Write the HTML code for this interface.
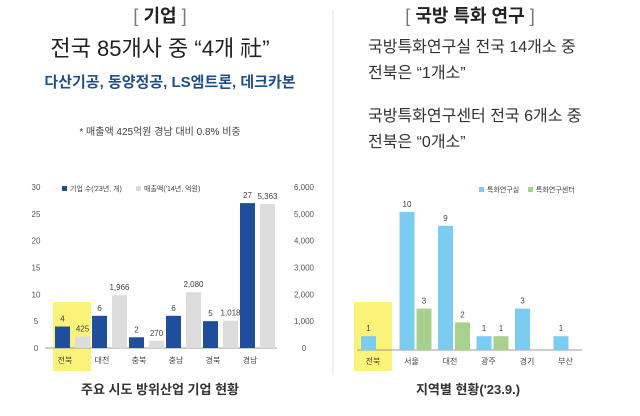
<!DOCTYPE html>
<html><head><meta charset="utf-8"><style>
body{margin:0;background:#fff;width:640px;height:411px;overflow:hidden;font-family:"Liberation Sans","Noto Sans CJK KR",sans-serif;}
svg text{font-family:"Liberation Sans","Noto Sans CJK KR",sans-serif;}
</style></head><body>
<svg id="s" width="640" height="411" viewBox="0 0 640 411" xmlns="http://www.w3.org/2000/svg">
<line x1="333" y1="10" x2="333" y2="375" stroke="#e4e4e4" stroke-width="1"/>
<text x="160" y="22" font-size="18" text-anchor="middle" fill="#222"><tspan fill="#777" font-weight="normal">[ </tspan><tspan font-weight="bold">기업</tspan><tspan fill="#777"> ]</tspan></text>
<text x="160" y="56" font-size="22" text-anchor="middle" fill="#222">전국 85개사 중 “4개 社”</text>
<text x="170" y="87" font-size="15" font-weight="bold" text-anchor="middle" fill="#1f4e8c">다산기공, 동양정공, LS엠트론, 데크카본</text>
<text x="160" y="135" font-size="10" text-anchor="middle" fill="#444">* 매출액 425억원 경남 대비 0.8% 비중</text>
<text x="470" y="22" font-size="18" text-anchor="middle" fill="#222"><tspan fill="#777">[ </tspan><tspan font-weight="bold">국방 특화 연구</tspan><tspan fill="#777"> ]</tspan></text>
<text x="368" y="52" font-size="16" fill="#333">국방특화연구실 전국 14개소 중</text>
<text x="368" y="78" font-size="16" fill="#333">전북은 “1개소”</text>
<text x="368" y="121" font-size="16" fill="#333">국방특화연구센터 전국 6개소 중</text>
<text x="368" y="147" font-size="16" fill="#333">전북은 “0개소”</text>
<g id="c1"></g><g id="c2"></g>
<text x="160" y="394" font-size="13" font-weight="bold" text-anchor="middle" fill="#333">주요 시도 방위산업 기업 현황</text>
<text x="468" y="394" font-size="13" font-weight="bold" text-anchor="middle" fill="#333">지역별 현황('23.9.)</text>
</svg>
<script>
const cats1=["전북","대전","충북","충남","경북","경남"];
const firms=[4,6,2,6,5,27];
const sales=[425,1966,270,2080,1018,5363];
const leftTicks=[0,5,10,15,20,25,30];
const rightTicks=[0,1000,2000,3000,4000,5000,6000];
const cats2=["전북","서울","대전","광주","경기","부산"];
const labs=[1,10,9,1,3,1];
const centers=[0,3,2,1,0,0];
const NS="http://www.w3.org/2000/svg";
function mk(p,t,a,txt){const e=document.createElementNS(NS,t);for(const k in a)e.setAttribute(k,a[k]);if(txt!==undefined)e.textContent=txt;p.appendChild(e);return e;}
// chart 1
const g1=document.getElementById('c1');
const base1=348,top1=187;
const yL=v=>base1-(v/30)*(base1-top1);
const yR=v=>base1-(v/6000)*(base1-top1);
const gx1=i=>55+i*37;
let hl=mk(g1,'rect',{x:53,y:302,width:38,height:69,fill:'#fbf27a'});


leftTicks.forEach(t=>{const e=mk(g1,'text',{x:36,y:yL(t)+3,'font-size':8,'text-anchor':'middle',fill:'#555'},t);

});
rightTicks.forEach(t=>{const e=mk(g1,'text',{x:304,y:yR(t)+3,'font-size':8,'text-anchor':'middle',fill:'#555'},t.toLocaleString('en-US'));

});
let ax=mk(g1,'line',{x1:45,y1:base1,x2:277,y2:base1,stroke:'#999','stroke-width':1});


cats1.forEach((c,i)=>{const x=gx1(i);
const b=mk(g1,'rect',{x:x,y:yL(firms[i]),width:15,height:base1-yL(firms[i]),fill:'#1f4e9c'});


const b2=mk(g1,'rect',{x:x+20,y:yR(sales[i]),width:15,height:base1-yR(sales[i]),fill:'#dcdcdc'});


const l=mk(g1,'text',{x:x+7.5,y:yL(firms[i])-5,'font-size':8,'text-anchor':'middle',fill:'#444'},firms[i]);


const l2=mk(g1,'text',{x:x+27.5,y:yR(sales[i])-5,'font-size':8,'text-anchor':'middle',fill:'#444'},sales[i].toLocaleString('en-US'));


const cl=mk(g1,'text',{x:x+10,y:base1+15,'font-size':8,'text-anchor':'middle',fill:'#444'},c);

});
let lg=mk(g1,'rect',{x:62,y:186,width:5,height:5,fill:'#1f4e9c'});


mk(g1,'text',{x:70,y:191,'font-size':7,fill:'#444'},"기업 수('23년, 개)");
let lg2=mk(g1,'rect',{x:136,y:186,width:5,height:5,fill:'#dcdcdc'});


mk(g1,'text',{x:144,y:191,'font-size':7,fill:'#444'},"매출액('14년, 억원)");
// chart 2
const g2=document.getElementById('c2');
const base2=350;
const y2=v=>base2-v*13.8;
const gx2=i=>361+i*38.5;
let hl2=mk(g2,'rect',{x:354,y:302,width:38,height:69,fill:'#fbf27a'});


let ax2=mk(g2,'line',{x1:357,y1:base2,x2:582,y2:base2,stroke:'#999','stroke-width':1});


cats2.forEach((c,i)=>{const x=gx2(i);
const b=mk(g2,'rect',{x:x,y:y2(labs[i]),width:15,height:base2-y2(labs[i]),fill:'#7ccbf0'});


const l=mk(g2,'text',{x:x+7.5,y:y2(labs[i])-5,'font-size':8,'text-anchor':'middle',fill:'#444'},labs[i]);


if(centers[i]>0){const b2=mk(g2,'rect',{x:x+17,y:y2(centers[i]),width:15,height:base2-y2(centers[i]),fill:'#a9d18e'});


const l2=mk(g2,'text',{x:x+24.5,y:y2(centers[i])-5,'font-size':8,'text-anchor':'middle',fill:'#444'},centers[i]);

}
const cl=mk(g2,'text',{x:x+12,y:base2+14,'font-size':8,'text-anchor':'middle',fill:'#444'},c);

});
let lg3=mk(g2,'rect',{x:479,y:187,width:5,height:5,fill:'#7ccbf0'});


mk(g2,'text',{x:487,y:192,'font-size':7,fill:'#444'},"특화연구실");
let lg4=mk(g2,'rect',{x:528,y:187,width:5,height:5,fill:'#a9d18e'});


mk(g2,'text',{x:536,y:192,'font-size':7,fill:'#444'},"특화연구센터");
</script>
</body></html>
